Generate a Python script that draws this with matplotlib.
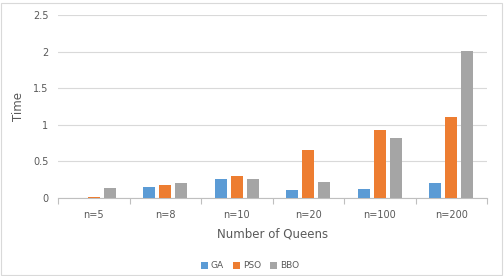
import matplotlib
matplotlib.use("Agg")
import matplotlib.pyplot as plt
import numpy as np
from matplotlib.patches import Rectangle

categories = ["n=5", "n=8", "n=10", "n=20", "n=100", "n=200"]
ga = [0.0, 0.15, 0.26, 0.11, 0.12, 0.21]
pso = [0.01, 0.18, 0.30, 0.65, 0.93, 1.10]
bbo = [0.14, 0.21, 0.26, 0.22, 0.82, 2.01]
series = [("GA", ga, "#5B9BD5"), ("PSO", pso, "#ED7D31"), ("BBO", bbo, "#A5A5A5")]

plt.rcParams['font.family'] = ['DejaVu Sans']
fig = plt.figure(figsize=(5.04, 2.76), dpi=100)
ax = fig.add_axes([58/504, 1-198/276, (487-58)/504, (198-15)/276])

x = np.arange(len(categories))
w = 0.168
step = 0.224
for i, (name, vals, col) in enumerate(series):
    ax.bar(x + (i-1)*step, vals, width=w, color=col, label=name, zorder=3)

ax.set_xlim(-0.5, len(categories)-0.5)
ax.set_ylim(0, 2.5)
ax.set_yticks([0, 0.5, 1, 1.5, 2, 2.5])
ax.set_yticklabels(["0", "0.5", "1", "1.5", "2", "2.5"])
ax.grid(axis='y', color='#D9D9D9', linewidth=0.8, zorder=0)
for s in ['top', 'right', 'left']:
    ax.spines[s].set_visible(False)
ax.spines['bottom'].set_color('#BFBFBF')
ax.spines['bottom'].set_linewidth(0.8)
ax.set_xticks(x)
ax.set_xticklabels(categories)
ax.set_xticks(np.arange(-0.5, len(categories), 1), minor=True)
ax.tick_params(axis='x', which='major', length=0, pad=9, labelsize=7, labelcolor='#595959')
ax.tick_params(axis='x', which='minor', length=4, color='#BFBFBF', width=0.8)
ax.tick_params(axis='y', length=0, pad=7, labelsize=7, labelcolor='#595959')
ax.set_xlabel("Number of Queens", fontsize=8.5, color='#595959', labelpad=5)

fig.text(19/504, 1-107/276, "Time", rotation=90, ha='center', va='center',
         fontsize=8.5, color='#595959')

leg = fig.legend(loc='center', bbox_to_anchor=(250/504, 1-266/276), ncol=3, frameon=False,
                 fontsize=6.5, handlelength=0.8, handleheight=0.8, handletextpad=0.3,
                 columnspacing=1.0, labelcolor='#595959')

fig.patches.append(Rectangle((1/504, 1/276), 501/504, 272/276, transform=fig.transFigure,
                             fill=False, edgecolor='#D9D9D9', linewidth=0.8))
fig.savefig("out.png", dpi=100)
